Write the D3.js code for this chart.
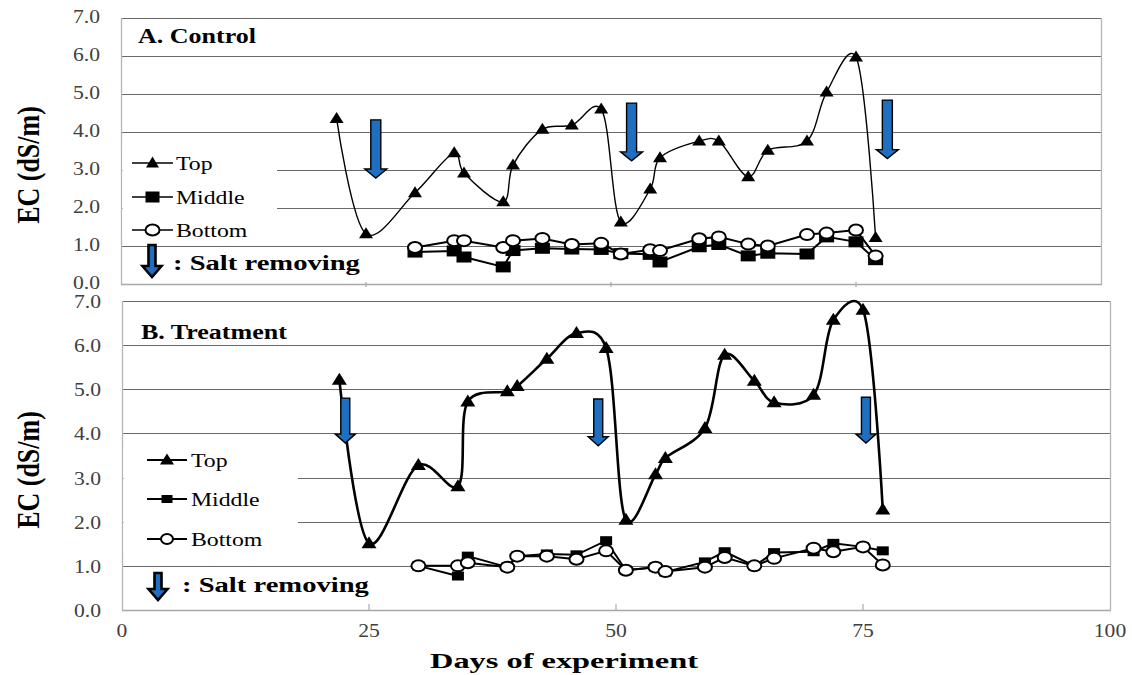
<!DOCTYPE html>
<html>
<head>
<meta charset="utf-8">
<script src="https://cdn.jsdelivr.net/npm/d3@7"></script>
<style>
  html, body { margin: 0; padding: 0; background: #fff; }
  svg { display: block; font-family: "Liberation Serif", "Times New Roman", serif; }
</style>
</head>
<body>
<svg id="chart" width="1132" height="675"></svg>
<script>
// Sampling days (Top series) and days with Middle/Bottom readings
const daysTop = [22, 25, 30, 34, 35, 39, 40, 43, 46, 49, 51, 54, 55, 59, 61, 64, 66, 70, 72, 75, 77];
const daysSub = [30, 34, 35, 39, 40, 43, 46, 49, 51, 54, 55, 59, 61, 64, 66, 70, 72, 75, 77];

// A. Control, EC (dS/m)
const controlTop    = [4.35, 1.32, 2.40, 3.45, 2.92, 2.16, 3.13, 4.07, 4.18, 4.60, 1.63, 2.50, 3.32, 3.76, 3.76, 2.82, 3.52, 3.76, 5.05, 5.97, 1.22];
const controlMiddle = [0.84, 0.87, 0.71, 0.45, 0.88, 0.94, 0.92, 0.91, 0.80, 0.78, 0.58, 0.98, 1.04, 0.74, 0.81, 0.79, 1.24, 1.11, 0.64];
const controlBottom = [0.96, 1.14, 1.14, 0.96, 1.14, 1.20, 1.04, 1.07, 0.79, 0.90, 0.88, 1.19, 1.24, 1.05, 1.00, 1.30, 1.34, 1.42, 0.74];

// B. Treatment, EC (dS/m)
const treatTop    = [5.21, 1.51, 3.28, 2.80, 4.72, 4.95, 5.07, 5.69, 6.27, 5.93, 2.04, 3.07, 3.44, 4.12, 5.78, 5.19, 4.70, 4.87, 6.57, 6.80, 2.27];
const treatMiddle = [1.00, 0.77, 1.22, 0.97, 1.22, 1.27, 1.25, 1.57, 0.90, 0.97, 0.86, 1.09, 1.32, 1.00, 1.30, 1.32, 1.51, 1.43, 1.34];
const treatBottom = [1.00, 1.00, 1.07, 0.97, 1.22, 1.22, 1.15, 1.34, 0.90, 0.97, 0.87, 0.97, 1.19, 1.00, 1.17, 1.40, 1.32, 1.43, 1.02];

// Salt-removing events: [day, EC at arrow tail, EC at arrow tip]
const saltControl = [[26.0, 4.32, 2.79], [52.1, 4.76, 3.24], [78.2, 4.84, 3.30]];
const saltTreat   = [[22.6, 4.80, 3.78], [48.2, 4.78, 3.72], [75.3, 4.82, 3.78]];

const yTicks = [0, 1, 2, 3, 4, 5, 6, 7];
const xTicks = [0, 25, 50, 75, 100];
const seriesNames = ["Top", "Middle", "Bottom"];

const svg = d3.select("#chart");
const BLUE = "#1f6fc1";

function addText(g, x, y, str, o) {
  const t = g.append("text")
    .attr("transform", `translate(${x},${y}) scale(${o.sx || 1},1)`)
    .attr("text-anchor", o.anchor || "start")
    .attr("font-size", o.size)
    .attr("font-weight", o.weight || "normal")
    .attr("fill", o.fill || "#000")
    .text(str);
  return t;
}

function arrowPath(cx, y0, y1, sw, hw, hh) {
  const s = sw / 2, h = hw / 2, yb = y1 - hh;
  return `M${cx - s},${y0}L${cx + s},${y0}L${cx + s},${yb}L${cx + h},${yb}L${cx},${y1}L${cx - h},${yb}L${cx - s},${yb}Z`;
}

function triPath(w, h) {
  return `M0,${-h * 0.6}L${w / 2},${h * 0.4}L${-w / 2},${h * 0.4}Z`;
}

function panel(cfg) {
  const g = svg.append("g");
  const x = d3.scaleLinear().domain([0, 100]).range([cfg.left, cfg.right]);
  const y = d3.scaleLinear().domain([0, 7]).range([cfg.bottom, cfg.top]);

  // horizontal gridlines
  g.append("g").selectAll("line").data(yTicks.filter(v => v > 0)).join("line")
    .attr("x1", cfg.left).attr("x2", cfg.right)
    .attr("y1", d => Math.round(y(d)) + 0.5).attr("y2", d => Math.round(y(d)) + 0.5)
    .attr("stroke", "#6a6a6a").attr("stroke-width", 1.2);

  // frame (left, right, bottom)
  g.append("line").attr("x1", cfg.left + 0.5).attr("x2", cfg.left + 0.5)
    .attr("y1", cfg.top).attr("y2", cfg.bottom).attr("stroke", "#b4b4b4").attr("stroke-width", 1.3);
  g.append("line").attr("x1", cfg.right + 0.5).attr("x2", cfg.right + 0.5)
    .attr("y1", cfg.top).attr("y2", cfg.bottom).attr("stroke", "#b4b4b4").attr("stroke-width", 1.3);
  g.append("line").attr("x1", cfg.left).attr("x2", cfg.right + 1)
    .attr("y1", cfg.bottom + 0.5).attr("y2", cfg.bottom + 0.5).attr("stroke", "#a8a8a8").attr("stroke-width", 1.5);

  // x tick marks
  g.append("g").selectAll("line").data([25, 50, 75]).join("line")
    .attr("x1", d => x(d)).attr("x2", d => x(d))
    .attr("y1", cfg.bottom - cfg.tickUp).attr("y2", cfg.bottom + cfg.tickDown)
    .attr("stroke", "#a8a8a8").attr("stroke-width", 1.2);

  // y tick labels
  yTicks.forEach(v => addText(g, cfg.left - 21, y(v) + cfg.tickDy, v.toFixed(1),
    { size: 18, sx: 1.2, anchor: "end", fill: "#404040" }));

  // y axis title
  g.append("text")
    .attr("transform", `translate(${cfg.ecX},${cfg.ecY}) rotate(-90) scale(1,1.25)`)
    .attr("text-anchor", "middle").attr("dy", "0.35em")
    .attr("font-size", 26).attr("font-weight", "bold").text("EC (dS/m)");

  // legend backdrop hides the gridlines behind it
  g.append("rect").attr("x", cfg.left + 1.5).attr("y", cfg.legBox[0])
    .attr("width", cfg.legBox[2] - cfg.left - 1.5).attr("height", cfg.legBox[1] - cfg.legBox[0])
    .attr("fill", "#fff");

  // panel title
  addText(g, cfg.titleX, cfg.titleY, cfg.title, { size: 20, weight: "bold", sx: 1.3 });

  const m = cfg.marker;
  const lineSmooth = d3.line().x(d => x(d[0])).y(d => y(d[1])).curve(d3.curveCatmullRom.alpha(0.15));
  const lineStraight = d3.line().x(d => x(d[0])).y(d => y(d[1]));

  const ptsTop = daysTop.map((d, i) => [d, cfg.top_[i]]);
  const ptsMid = daysSub.map((d, i) => [d, cfg.mid[i]]);
  const ptsBot = daysSub.map((d, i) => [d, cfg.bot[i]]);

  g.append("path").attr("d", lineStraight(ptsMid)).attr("fill", "none")
    .attr("stroke", "#000").attr("stroke-width", m.subW);
  g.append("path").attr("d", lineStraight(ptsBot)).attr("fill", "none")
    .attr("stroke", "#000").attr("stroke-width", m.subW);
  g.append("path").attr("d", lineSmooth(ptsTop)).attr("fill", "none")
    .attr("stroke", "#000").attr("stroke-width", m.topW);

  // markers
  g.append("g").selectAll("rect").data(ptsMid).join("rect")
    .attr("x", d => x(d[0]) - m.sqW / 2).attr("y", d => y(d[1]) - m.sqH / 2)
    .attr("width", m.sqW).attr("height", m.sqH).attr("fill", "#000");
  g.append("g").selectAll("ellipse").data(ptsBot).join("ellipse")
    .attr("cx", d => x(d[0])).attr("cy", d => y(d[1]))
    .attr("rx", m.cRx).attr("ry", m.cRy).attr("fill", "#fff")
    .attr("stroke", "#000").attr("stroke-width", 2);
  g.append("g").selectAll("path").data(ptsTop).join("path")
    .attr("transform", d => `translate(${x(d[0])},${y(d[1])})`)
    .attr("d", triPath(m.triW, m.triH)).attr("fill", "#000");

  // salt-removing arrows
  g.append("g").selectAll("path").data(cfg.salt).join("path")
    .attr("d", d => arrowPath(x(d[0]), y(d[1]), y(d[2]), cfg.arrow[0], cfg.arrow[1], cfg.arrow[2]))
    .attr("fill", BLUE).attr("stroke", "#000").attr("stroke-width", 1.4)
    .attr("stroke-linejoin", "miter");

  // legend
  const L = cfg.leg;
  seriesNames.forEach((name, i) => {
    const ly = L.rows[i];
    g.append("line").attr("x1", L.x0).attr("x2", L.x1).attr("y1", ly).attr("y2", ly)
      .attr("stroke", "#000").attr("stroke-width", L.lw);
    const cx = (L.x0 + L.x1) / 2;
    if (i === 0) {
      g.append("path").attr("transform", `translate(${cx},${ly})`)
        .attr("d", triPath(L.triW, L.triH)).attr("fill", "#000");
    } else if (i === 1) {
      g.append("rect").attr("x", cx - L.sqW / 2).attr("y", ly - L.sqH / 2)
        .attr("width", L.sqW).attr("height", L.sqH).attr("fill", "#000");
    } else {
      g.append("ellipse").attr("cx", cx).attr("cy", ly).attr("rx", L.cRx).attr("ry", L.cRy)
        .attr("fill", "#fff").attr("stroke", "#000").attr("stroke-width", 2);
    }
    addText(g, L.tx, ly + 6.5, name, { size: 19, sx: 1.25 });
  });
  g.append("path").attr("d", arrowPath(L.ax, L.ay0, L.ay1, 7, 19, 11))
    .attr("fill", BLUE).attr("stroke", "#000").attr("stroke-width", 2.6);
  addText(g, L.sx, L.sy, ": Salt removing", { size: 22, weight: "bold", sx: 1.3 });

  return { x, y };
}

const A = panel({
  left: 121, right: 1101, top: 18, bottom: 284,
  tickUp: 2, tickDown: 3, tickDy: 5,
  ecX: 28, ecY: 165,
  title: "A. Control", titleX: 138, titleY: 43,
  legBox: [148, 236, 277],
  top_: controlTop, mid: controlMiddle, bot: controlBottom,
  salt: saltControl, arrow: [10, 22, 9],
  marker: { topW: 1.4, subW: 2, sqW: 15, sqH: 11, cRx: 7, cRy: 5.5, triW: 14, triH: 11 },
  leg: { x0: 132, x1: 173, rows: [163, 197, 230], tx: 176, lw: 1.6,
         triW: 13, triH: 11, sqW: 14, sqH: 11, cRx: 7, cRy: 5.5,
         ax: 152, ay0: 245, ay1: 277, sx: 173, sy: 270 }
});

const B = panel({
  left: 122, right: 1110, top: 301, bottom: 610,
  tickUp: 6, tickDown: 0, tickDy: 7,
  ecX: 28, ecY: 470,
  title: "B. Treatment", titleX: 141, titleY: 339,
  legBox: [446, 554, 298],
  top_: treatTop, mid: treatMiddle, bot: treatBottom,
  salt: saltTreat, arrow: [9, 20, 9],
  marker: { topW: 2.6, subW: 2, sqW: 12, sqH: 9, cRx: 7, cRy: 5.5, triW: 15, triH: 12 },
  leg: { x0: 147, x1: 187, rows: [460, 499, 539], tx: 191, lw: 2,
         triW: 14, triH: 11, sqW: 11, sqH: 8, cRx: 6, cRy: 5,
         ax: 158, ay0: 573, ay1: 600, sx: 182, sy: 592 }
});

// x tick labels (bottom panel only)
xTicks.forEach(v => addText(svg, B.x(v), 637, String(v),
  { size: 18, sx: 1.2, anchor: "middle", fill: "#404040" }));

// x axis title
svg.append("text").attr("x", 564).attr("y", 668)
  .attr("text-anchor", "middle").attr("font-size", 22).attr("font-weight", "bold")
  .attr("textLength", 268).attr("lengthAdjust", "spacingAndGlyphs")
  .text("Days of experiment");
</script>
</body>
</html>
